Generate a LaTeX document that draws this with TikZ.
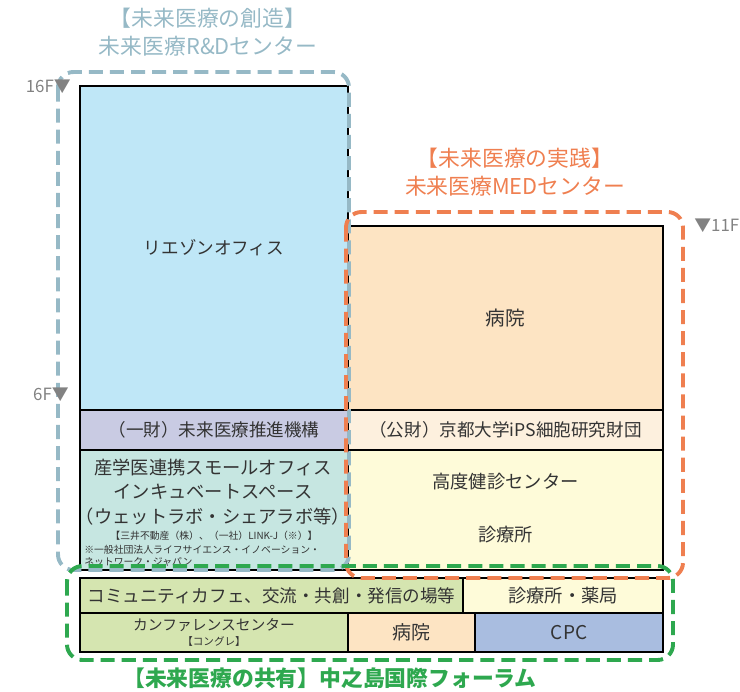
\documentclass[tikz,border=0pt]{standalone}
\usepackage{fontspec}
\setmainfont{Noto Sans CJK JP}
\begin{document}
\begin{tikzpicture}[x=0.025cm,y=-0.025cm,
    room/.style={shape=rectangle,draw=black,line width=0.9pt,inner sep=0pt,text=textgray,font=\fontsize{12.5}{14}\selectfont},
    zoneframe/.style={line width=2.8pt,rounded corners=11pt,dash pattern=on 10pt off 5pt},
    zonetitle/.style={inner sep=0pt,font=\fontsize{15.5}{17}\selectfont},
    floor/.style={inner sep=0pt,text=floorgray,font=\fontsize{12}{13}\selectfont}]
    \definecolor{textgray}{RGB}{51,51,51}
    \definecolor{floorgray}{RGB}{130,130,130}
    \definecolor{liaisonbg}{RGB}{191,231,247}
    \definecolor{kikoubg}{RGB}{201,203,227}
    \definecolor{incubbg}{RGB}{198,230,225}
    \definecolor{hospbg}{RGB}{253,228,195}
    \definecolor{ipsbg}{RGB}{253,240,222}
    \definecolor{kenshinbg}{RGB}{254,251,217}
    \definecolor{forumbg}{RGB}{213,229,176}
    \definecolor{cpcbg}{RGB}{169,189,224}
    \definecolor{rdblue}{RGB}{150,185,198}
    \definecolor{medorange}{RGB}{239,127,80}
    \definecolor{forumgreen}{RGB}{46,168,79}
    \useasboundingbox (0,0) rectangle (740,691);
    % R&D center
    \node[room,fill=liaisonbg,minimum width=6.7cm,minimum height=8.1cm]   (liaison) at (214,248)   {リエゾンオフィス};
    \node[room,fill=kikoubg,minimum width=6.7cm,minimum height=1.0cm]     (kikou)   at (214,430)   {（一財）未来医療推進機構};
    \node[room,fill=incubbg,minimum width=6.7cm,minimum height=3.0cm]     (incub)   at (214,510)   {};
    \node[inner sep=0pt,text=textgray,font=\fontsize{13}{14}\selectfont] (incubA) at (213,468) {産学医連携スモールオフィス};
    \node[inner sep=0pt,text=textgray,font=\fontsize{13}{14}\selectfont] (incubB) at (213,492) {インキュベートスペース};
    \node[inner sep=0pt,text=textgray,font=\fontsize{13}{14}\selectfont] (incubC) at (213,517) {（ウェットラボ・シェアラボ等）};
    \node[inner sep=0pt,text=textgray,font=\fontsize{7}{8}\selectfont]   (incubD) at (214,536) {【三井不動産（株）、（一社）LINK-J（※）】};
    \node[inner sep=0pt,text=textgray,font=\fontsize{7}{8}\selectfont,anchor=west] (incubE) at (84,550) {※一般社団法人ライフサイエンス・イノベーション・};
    \node[inner sep=0pt,text=textgray,font=\fontsize{7}{8}\selectfont,anchor=west] (incubF) at (84,562) {ネットワーク・ジャパン};
    % MED center
    \node[room,fill=hospbg,minimum width=7.875cm,minimum height=4.6cm,font=\fontsize{14}{16}\selectfont] (hosp) at (505.5,318) {病院};
    \node[room,fill=ipsbg,minimum width=7.875cm,minimum height=1.0cm]     (ips)     at (505.5,430) {（公財）京都大学iPS細胞研究財団};
    \node[room,fill=kenshinbg,minimum width=7.875cm,minimum height=3.0cm] (kenshin) at (505.5,510) {};
    \node[inner sep=0pt,text=textgray,font=\fontsize{13}{14}\selectfont] (kenshinA) at (505.5,482) {高度健診センター};
    \node[inner sep=0pt,text=textgray,font=\fontsize{13}{14}\selectfont] (kenshinB) at (505.5,535) {診療所};
    % forum
    \node[room,fill=forumbg,minimum width=9.575cm,minimum height=0.875cm] (cafe)    at (271.5,595.5) {コミュニティカフェ、交流・共創・発信の場等};
    \node[room,fill=kenshinbg,minimum width=5.0cm,minimum height=0.875cm,font=\fontsize{13}{14}\selectfont] (clinic) at (563,595.5) {診療所・薬局};
    \node[room,fill=forumbg,minimum width=6.7cm,minimum height=0.975cm,align=center,font=\fontsize{10.5}{11}\selectfont] (conf) at (214,632.5) {カンファレンスセンター\\{\fontsize{7.5}{8}\selectfont 【コングレ】}};
    \node[room,fill=hospbg,minimum width=3.175cm,minimum height=0.975cm,font=\fontsize{13.5}{14}\selectfont] (hosptwo) at (411.5,632.5) {病院};
    \node[room,fill=cpcbg,minimum width=4.7cm,minimum height=0.975cm,font=\fontsize{13.5}{14}\selectfont]    (cpc)     at (569,632.5)   {CPC};
    % zones
    \draw[zoneframe,rdblue]     (58,72)   rectangle (349,570);
    \draw[zoneframe,medorange]  (346,212) rectangle (683,578);
    \draw[zoneframe,forumgreen] (67,566)  rectangle (673,660);
    \node[zonetitle,text=rdblue]     (rdtitle)  at (208,18)  {【未来医療の創造】};
    \node[zonetitle,text=rdblue]     (rdname)   at (208,46)  {未来医療R\&Dセンター};
    \node[zonetitle,text=medorange]  (medtitle) at (515,158) {【未来医療の実践】};
    \node[zonetitle,text=medorange]  (medname)  at (515,186) {未来医療MEDセンター};
    \node[zonetitle,text=forumgreen,font=\fontsize{15.5}{17}\selectfont\bfseries] (forumname) at (330,678) {【未来医療の共有】中之島国際フォーラム};
    % floors
    \node[floor,anchor=east] (floor16) at (71,87)  {16F▼};
    \node[floor,anchor=east] (floor6)  at (69,395) {6F▼};
    \node[floor,anchor=west] (floor11) at (694,226) {▼11F};
\end{tikzpicture}
\end{document}
